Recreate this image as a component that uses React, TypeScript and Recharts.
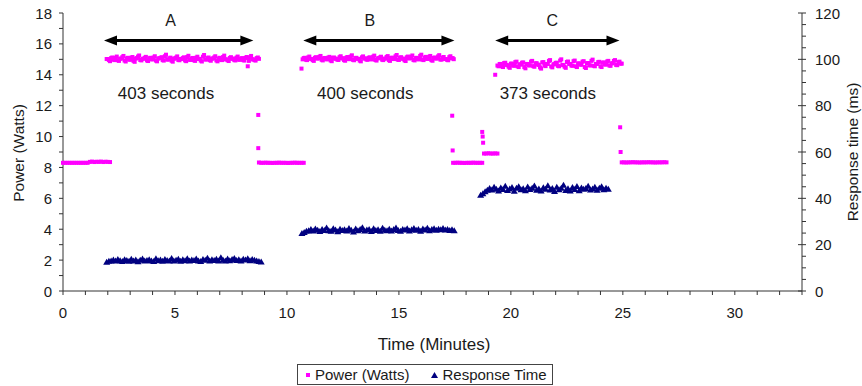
import {
  ScatterChart,
  Scatter,
  XAxis,
  YAxis,
  Legend,
  ReferenceLine,
  ReferenceDot,
  Label
} from 'recharts';

// ==========================================
// DATA (time in minutes, power in W, response in ms)
// ==========================================

const SAMPLE_STEP = 0.1;
const HALF_STEP = 0.05;

// idle power before / between / after the runs
const idlePower0 = [
  8.3, 8.3, 8.3, 8.3, 8.3, 8.3, 8.3, 8.3, 8.3, 8.3, 8.3,
  8.3, 8.36, 8.38, 8.35, 8.37, 8.36, 8.38, 8.35, 8.37, 8.36, 8.35
];
const idlePower1 = [
  8.32, 8.3, 8.3, 8.31, 8.3, 8.3, 8.29, 8.3, 8.3, 8.31, 8.3,
  8.3, 8.3, 8.29, 8.3, 8.3, 8.31, 8.3, 8.3, 8.3, 8.3
];
const idlePower2 = [8.3, 8.3, 8.31, 8.3, 8.3, 8.29, 8.3, 8.3, 8.3, 8.31, 8.3, 8.3, 8.3, 8.3];
const idlePower2b = [8.9, 8.9, 8.92, 8.9, 8.9, 8.91, 8.9];
const idlePower3 = [
  8.33, 8.33, 8.32, 8.33, 8.33, 8.34, 8.33, 8.33, 8.32, 8.33, 8.33,
  8.33, 8.34, 8.33, 8.33, 8.32, 8.33, 8.33, 8.33, 8.34, 8.33
];

// power during the runs (two interleaved sample sets per run)
const powerA = [
  15.02, 14.95, 15.08, 14.98, 15.1, 14.94, 15.04, 15.14, 14.92, 15.06,
  14.99, 15.1, 14.9, 15.05, 15.18, 14.96, 15.03, 15.1, 14.93, 15.07,
  15.0, 15.12, 14.92, 15.05, 15.09, 14.95, 15.2, 14.99, 15.07, 14.91,
  15.04, 15.11, 14.96, 15.02, 15.08, 14.93, 15.15, 14.97, 15.06, 14.94,
  15.1, 15.02, 14.92, 15.17, 14.99, 15.08, 14.95, 15.04, 15.12, 14.93,
  15.06, 14.97, 15.15, 15.0, 14.94, 15.09, 15.03, 14.95, 15.11, 14.98,
  15.05, 14.95, 15.09, 14.55, 15.13, 15.0, 14.95, 15.08, 15.03
];
const powerA2 = [
  15.02, 14.88, 15.12, 14.95, 15.18, 14.9, 15.05, 15.22, 14.86, 15.1,
  14.97, 15.15, 14.84, 15.08, 15.25, 14.93, 15.04, 15.16, 14.89, 15.1,
  15.0, 15.2, 14.87, 15.07, 15.14, 14.92, 15.3, 14.98, 15.11, 14.85,
  15.06, 15.19, 14.94, 15.02, 15.13, 14.88, 15.23, 14.96, 15.09, 14.9,
  15.17, 15.03, 14.86, 15.28, 14.99, 15.12, 14.91, 15.06, 15.2, 14.87,
  15.1, 14.95, 15.24, 15.0, 14.89, 15.14, 15.05, 14.93, 15.18, 14.97,
  15.08, 14.92, 15.15, 14.9, 15.22, 15.0, 14.92, 15.12
];
const powerB = [
  14.4, 15.08, 14.98, 15.12, 15.03, 14.95, 15.1, 15.05, 15.16, 14.97,
  15.07, 15.01, 15.11, 14.93, 15.09, 15.04, 14.98, 15.14, 15.06, 14.95,
  15.1, 15.02, 15.18, 14.97, 15.08, 15.03, 14.92, 15.13, 15.05, 14.99,
  15.1, 15.01, 15.17, 14.96, 15.06, 15.12, 14.98, 15.04, 15.15, 14.95,
  15.09, 15.02, 15.2, 14.98, 15.1, 15.04, 14.94, 15.13, 15.06, 15.17,
  14.96, 15.08, 15.01, 15.22, 14.98, 15.11, 15.03, 15.16, 14.95, 15.09,
  15.05, 15.19, 14.99, 15.11, 15.02, 14.97, 15.14, 15.06, 15.01
];
const powerB2 = [
  15.0, 15.1, 14.95, 15.18, 15.02, 14.9, 15.14, 15.06, 15.22, 14.93,
  15.09, 15.0, 15.16, 14.88, 15.12, 15.04, 14.96, 15.2, 15.07, 14.91,
  15.15, 15.01, 15.26, 14.94, 15.1, 15.03, 14.87, 15.19, 15.06, 14.97,
  15.13, 15.0, 15.24, 14.92, 15.08, 15.17, 14.95, 15.05, 15.21, 14.9,
  15.11, 15.02, 15.28, 14.96, 15.14, 15.04, 14.89, 15.18, 15.07, 15.25,
  14.93, 15.1, 15.0, 15.3, 14.95, 15.16, 15.03, 15.22, 14.91, 15.12,
  15.06, 15.27, 14.98, 15.15, 15.02, 14.94, 15.2, 15.08
];
const powerC = [
  14.0, 14.6, 14.7, 14.55, 14.76, 14.64, 14.52, 14.72, 14.6, 14.82,
  14.55, 14.68, 14.78, 14.5, 14.7, 14.62, 14.85, 14.56, 14.74, 14.66,
  14.48, 14.8, 14.6, 14.7, 14.9, 14.54, 14.68, 14.77, 14.58, 14.92,
  14.64, 14.52, 14.83, 14.7, 14.6, 14.88, 14.55, 14.73, 14.66, 14.85,
  14.5, 14.75, 14.62, 14.9, 14.58, 14.7, 14.82, 14.55, 14.78, 14.67,
  14.86, 14.6, 14.74, 14.9, 14.64, 14.82, 14.72
];
const powerC2 = [
  14.55, 14.7, 14.5, 14.78, 14.62, 14.45, 14.72, 14.58, 14.85,
  14.5, 14.66, 14.8, 14.42, 14.7, 14.6, 14.9, 14.52, 14.75, 14.64,
  14.4, 14.82, 14.56, 14.7, 14.95, 14.48, 14.68, 14.78, 14.55, 15.0,
  14.62, 14.45, 14.86, 14.7, 14.58, 14.92, 14.5, 14.74, 14.65, 14.88,
  14.44, 14.76, 14.6, 14.98, 14.55, 14.7, 14.84, 14.5, 14.8, 14.66,
  14.9, 14.58, 14.75, 14.95, 14.62, 14.85, 14.72
];

// single samples while the load ramps down
const powerSpikeT = [8.72, 8.72, 17.38, 17.4, 18.72, 18.74, 18.76, 24.88, 24.9];
const powerSpikeW = [11.4, 9.25, 11.35, 9.1, 10.3, 10.0, 9.6, 10.6, 9.0];

// response time during the runs
const responseA = [
  12.4, 12.8, 13.0, 13.4, 12.9, 13.6, 13.1, 12.7, 13.5, 13.2,
  12.8, 13.7, 13.0, 13.4, 12.6, 13.3, 13.8, 12.9, 13.2, 13.5,
  13.0, 12.7, 13.9, 13.1, 13.4, 12.8, 13.6, 13.2, 13.0, 14.0,
  12.9, 13.3, 13.7, 12.8, 13.5, 13.1, 13.9, 12.9, 13.4, 13.2,
  13.8, 13.0, 12.7, 13.6, 13.3, 14.1, 12.9, 13.5, 13.2, 13.7,
  13.0, 14.3, 13.3, 12.9, 13.8, 13.1, 13.6, 14.0, 13.2, 13.5,
  12.9, 13.7, 13.4, 13.9, 13.1, 13.6, 13.3, 13.0, 12.7, 12.5
];
const responseB = [
  24.8, 25.3, 25.8, 26.0, 26.5, 25.9, 26.8, 26.2, 25.7, 26.6,
  26.1, 27.2, 26.0, 25.8, 26.9, 26.3, 25.6, 26.7, 26.1, 26.4,
  25.9, 27.0, 26.2, 25.5, 26.8, 26.0, 26.5, 27.3, 25.9, 26.3,
  26.6, 25.7, 26.9, 26.1, 26.4, 25.8, 27.1, 26.2, 26.0, 26.7,
  25.9, 26.5, 27.2, 26.1, 25.8, 26.6, 26.3, 26.9, 25.9, 26.4,
  27.0, 26.2, 26.6, 25.8, 26.8, 26.3, 27.1, 26.0, 26.5, 26.9,
  26.2, 26.7, 26.4, 27.0, 26.3, 26.6, 26.1, 26.4, 26.0
];
const responseC = [
  41.3, 42.0, 42.8, 43.5, 44.2, 43.6, 44.8, 43.9, 43.2, 44.5,
  43.8, 45.2, 43.4, 44.0, 44.7, 43.1, 44.3, 45.0, 43.7, 44.1,
  43.3, 44.9, 43.8, 44.4, 45.3, 43.5, 44.0, 43.2, 44.6, 43.9,
  45.4, 43.6, 44.2, 43.0, 44.8, 43.7, 44.3, 45.6, 43.4, 44.1,
  43.2, 44.7, 43.8, 45.1, 43.3, 44.5, 43.9, 44.2, 45.2, 43.6,
  44.0, 44.8, 43.5, 44.4, 45.0, 43.7, 44.3, 43.9
];

// run annotations (arrow span, label spots) in minutes / watts
const runNames = ['A', 'B', 'C'];
const runSeconds = [403, 400, 373];
const runArrowFrom = [1.83, 10.73, 19.3];
const runArrowTo = [8.5, 17.48, 24.85];
const runNameX = [4.8, 13.7, 21.85];
const runSecondsX = [4.6, 13.5, 21.65];
const ARROW_Y = 16.22;
const NAME_Y = 17.18;
const SECONDS_Y = 12.46;

const xTicks = Array.from({ length: 34 }, (_, i) => i);
const leftTicks = Array.from({ length: 19 }, (_, i) => i);
const rightTicks = Array.from({ length: 25 }, (_, i) => i * 5);

// ==========================================
// BUILD SERIES
// ==========================================

const run = (start: number, values: number[]) =>
  values.map((v, i) => ({ t: +(start + i * SAMPLE_STEP).toFixed(3), v }));

const powerData = [
  ...run(0, idlePower0),
  ...run(1.95, powerA),
  ...run(1.95 + HALF_STEP, powerA2),
  ...run(8.75, idlePower1),
  ...run(10.65, powerB),
  ...run(10.65 + HALF_STEP, powerB2),
  ...run(17.42, idlePower2),
  ...run(18.8, idlePower2b),
  ...run(19.3, powerC),
  ...run(19.4 + HALF_STEP, powerC2),
  ...run(24.95, idlePower3),
  ...powerSpikeT.map((t, i) => ({ t, v: powerSpikeW[i] }))
];

const responseData = [
  ...run(1.95, responseA),
  ...run(10.67, responseB),
  ...run(18.65, responseC)
];

// ==========================================
// STYLE
// ==========================================

const FONT = '"Liberation Sans", Arial, Helvetica, sans-serif';
const INK = '#1a1a1a';
const AXIS = '#333';
const PINK = '#ff00ff';
const NAVY = '#000080';

const PowerSquare = (p: any) => (
  <rect x={p.cx - 2} y={p.cy - 2} width={4} height={4} fill={PINK} />
);

const ResponseTriangle = (p: any) => (
  <polygon
    points={`${p.cx},${p.cy - 3.5} ${p.cx + 3.5},${p.cy + 2.5} ${p.cx - 3.5},${p.cy + 2.5}`}
    fill={NAVY}
  />
);

const XTick = ({ x, y, payload }: any) => (
  <g>
    <line x1={x} x2={x} y1={y} y2={y + 4} stroke={AXIS} />
    {payload.value % 5 === 0 && (
      <text x={x} y={y + 27} textAnchor="middle" fontSize={15} fontFamily={FONT} fill={INK}>
        {payload.value}
      </text>
    )}
  </g>
);

const LeftTick = ({ x, y, payload }: any) => (
  <g>
    <line x1={x - 4} x2={x} y1={y} y2={y} stroke={AXIS} />
    {payload.value % 2 === 0 && (
      <text x={x - 11} y={y + 5.5} textAnchor="end" fontSize={15} fontFamily={FONT} fill={INK}>
        {payload.value}
      </text>
    )}
  </g>
);

const RightTick = ({ x, y, payload }: any) => {
  const major = payload.value % 20 === 0;
  return (
    <g>
      <line x1={major ? x - 4 : x} x2={x + 4} y1={y} y2={y} stroke={AXIS} />
      {major && (
        <text x={x + 13} y={y + 5.5} textAnchor="start" fontSize={15} fontFamily={FONT} fill={INK}>
          {payload.value}
        </text>
      )}
    </g>
  );
};

const Arrow = ({ x1, y1, x2 }: any) => (
  <g>
    <line x1={x1 + 8} x2={x2 - 8} y1={y1} y2={y1} stroke="#000" strokeWidth={3} />
    <polygon points={`${x1},${y1} ${x1 + 13},${y1 - 5} ${x1 + 13},${y1 + 5}`} fill="#000" />
    <polygon points={`${x2},${y1} ${x2 - 13},${y1 - 5} ${x2 - 13},${y1 + 5}`} fill="#000" />
  </g>
);

const textDot = (text: string, size: number) => (p: any) => (
  <text x={p.cx} y={p.cy} textAnchor="middle" fontSize={size} fontFamily={FONT} fill={INK}>
    {text}
  </text>
);

const LegendBox = () => (
  <div
    style={{
      boxSizing: 'border-box',
      width: 256,
      height: 21,
      border: '1px solid #444',
      display: 'flex',
      alignItems: 'center',
      paddingLeft: 8,
      fontFamily: FONT,
      fontSize: 15,
      color: INK,
      whiteSpace: 'nowrap',
      background: '#fff'
    }}
  >
    <span style={{ width: 4, height: 4, background: PINK, marginRight: 5 }} />
    <span>Power (Watts)</span>
    <svg width={7} height={6} style={{ marginLeft: 22, marginRight: 4 }}>
      <polygon points="3.5,0 7,6 0,6" fill={NAVY} />
    </svg>
    <span>Response Time</span>
  </div>
);

// ==========================================
// CHART
// ==========================================

export default function App() {
  return (
    <div style={{ width: 862, height: 386, background: '#fff' }}>
      <style>{'body{margin:0;}'}</style>

      <ScatterChart
        width={862}
        height={386}
        margin={{ top: 13, right: 20, bottom: 65, left: 23 }}
      >
        <XAxis
          type="number"
          dataKey="t"
          domain={[0, 33]}
          ticks={xTicks}
          interval={0}
          height={30}
          tickSize={0}
          tickMargin={0}
          tick={<XTick />}
          axisLine={{ stroke: AXIS }}
        >
          <Label
            content={() => (
              <text x={434} y={350} textAnchor="middle" fontSize={17} fontFamily={FONT} fill={INK}>
                Time (Minutes)
              </text>
            )}
          />
        </XAxis>

        <YAxis
          yAxisId="left"
          type="number"
          dataKey="v"
          domain={[0, 18]}
          ticks={leftTicks}
          interval={0}
          width={40}
          tickSize={0}
          tickMargin={0}
          tick={<LeftTick />}
          axisLine={{ stroke: AXIS }}
        >
          <Label
            content={() => (
              <text
                x={0}
                y={0}
                transform="translate(24 153) rotate(-90)"
                textAnchor="middle"
                fontSize={15.5}
                fontFamily={FONT}
                fill={INK}
              >
                Power (Watts)
              </text>
            )}
          />
        </YAxis>

        <YAxis
          yAxisId="right"
          orientation="right"
          type="number"
          dataKey="v"
          domain={[0, 120]}
          ticks={rightTicks}
          interval={0}
          width={40}
          tickSize={0}
          tickMargin={0}
          tick={<RightTick />}
          axisLine={{ stroke: AXIS }}
        >
          <Label
            content={() => (
              <text
                x={0}
                y={0}
                transform="translate(858 152) rotate(-90)"
                textAnchor="middle"
                fontSize={15.5}
                fontFamily={FONT}
                fill={INK}
              >
                Response time (ms)
              </text>
            )}
          />
        </YAxis>

        {runNames.map((name, i) => (
          <ReferenceLine
            key={`arrow-${name}`}
            yAxisId="left"
            segment={[
              { x: runArrowFrom[i], y: ARROW_Y },
              { x: runArrowTo[i], y: ARROW_Y }
            ]}
            shape={Arrow}
          />
        ))}

        {runNames.map((name, i) => (
          <ReferenceDot
            key={`name-${name}`}
            yAxisId="left"
            x={runNameX[i]}
            y={NAME_Y}
            shape={textDot(name, 16)}
          />
        ))}

        {runNames.map((name, i) => (
          <ReferenceDot
            key={`secs-${name}`}
            yAxisId="left"
            x={runSecondsX[i]}
            y={SECONDS_Y}
            shape={textDot(`${runSeconds[i]} seconds`, 17)}
          />
        ))}

        <Scatter
          name="Power (Watts)"
          yAxisId="left"
          data={powerData}
          shape={PowerSquare}
          isAnimationActive={false}
        />

        <Scatter
          name="Response Time"
          yAxisId="right"
          data={responseData}
          shape={ResponseTriangle}
          isAnimationActive={false}
        />

        <Legend
          layout="horizontal"
          align="center"
          verticalAlign="middle"
          content={<LegendBox />}
          wrapperStyle={{ position: 'absolute', left: 297, top: 364, width: 256, height: 21 }}
        />
      </ScatterChart>
    </div>
  );
}
